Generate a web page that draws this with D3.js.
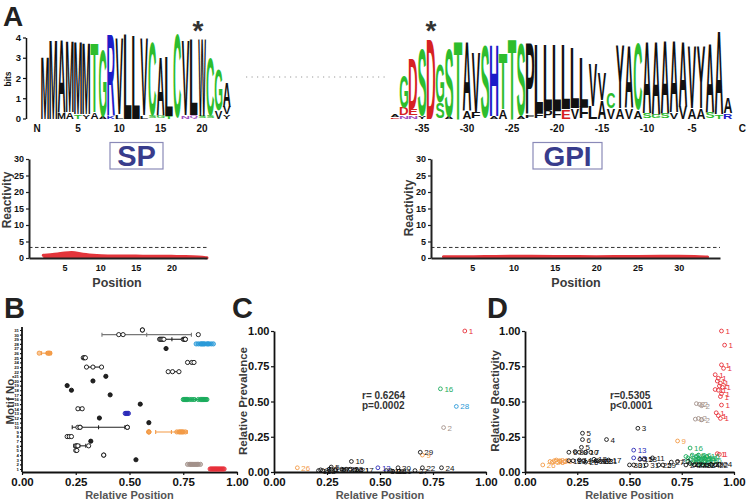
<!DOCTYPE html>
<html><head><meta charset="utf-8">
<script src="https://cdnjs.cloudflare.com/ajax/libs/d3/7.8.5/d3.min.js"></script>
<style>body{margin:0;background:#fff}svg{display:block}</style>
</head><body><script>
const FONT = '"Liberation Sans", Arial, Helvetica, sans-serif';

// ---------------- DATA ----------------
// Panel A – N-terminal (SP) sequence logo
const leftPos = d3.range(1, 24);
const leftMain = ["M","M","A","M","M","M","T","G","R","V","L","L","V","C","A","L","C","V","L","W","C","G","A"];
const leftBits = [3.1,3.9,3.6,3.55,3.6,3.55,3.4,3.3,3.95,3.7,4.15,4.1,3.8,3.65,2.9,2.9,4.15,3.65,3.75,3.8,2.85,2.0,1.2];
const leftMinorPos = [3,4,5,6,7,8,9,10,13,14,15,16,18,19,20,21,22,23,23];
const leftMinorLetters = ["M","A","T","Y","A","A","K","L","L","S","G","T","N","Q","S","S","V","V","Y"];
const leftMinorBits = [0.3,0.3,0.2,0.2,0.3,0.1,0.1,0.2,0.15,0.1,0.1,0.1,0.15,0.15,0.1,0.15,0.4,0.35,0.2];
const leftTicks = [5,10,15,20];
const leftStar = 19.5;

// Panel A – C-terminal (GPI) sequence logo
const rightPos = d3.range(-38, 0);
const rightMain = ["","G","D","S","D","G","S","T","A","V","S","H","T","T","S","P","L","L","L","L","L","L","V","V","C","Y","A","C","A","A","A","A","A","V","Y","A","A","A"];
const rightBits = [0,1.6,2.45,3.3,3.9,1.9,3.35,3.85,3.4,2.9,3.6,3.5,2.75,4.0,3.55,3.5,3.35,3.2,3.2,3.15,3.0,2.4,2.1,1.3,0.8,3.1,3.1,3.3,3.5,3.6,3.6,3.5,3.2,3.0,3.0,3.4,4.1,0.75];
const rightMinorPos = [-38,-38,-37,-37,-36,-36,-35,-33,-32,-30,-29,-27,-26,-24,-23,-22,-21,-20,-19,-18,-17,-16,-15,-14,-13,-12,-11,-10,-9,-8,-7,-6,-5,-4,-3,-2,-1];
const rightMinorLetters = ["A","E","N","D","N","E","Y","S","A","A","F","A","A","A","F","F","P","F","E","V","F","L","A","V","A","V","A","S","G","S","V","V","A","A","S","T","R"];
const rightMinorBits = [0.1,0.08,0.15,0.35,0.15,0.3,0.15,0.8,0.1,0.4,0.3,0.1,0.45,0.1,0.15,0.25,0.4,0.4,0.45,0.5,0.55,0.6,0.9,0.5,0.5,0.5,0.4,0.25,0.2,0.25,0.3,0.6,0.5,0.5,0.3,0.2,0.25];
const rightTicks = [-35,-30,-25,-20,-15,-10,-5];
const rightStar = -34;
const bitTicks = [0,1,2,3,4];

// Panel A – reactivity profiles
const spPos = [2,3,4,5,6,7,8,9,10,12,14,16,18,20,22,24,25];
const spReact = [0.8,1.0,1.2,1.5,1.8,1.4,1.0,0.8,0.7,0.6,0.6,0.55,0.55,0.5,0.45,0.3,0.05];
const gpiPos = [1.5,3,5,8,10,12,15,18,20,22,25,28,30,32,33.5];
const gpiReact = [0.35,0.4,0.4,0.45,0.55,0.5,0.45,0.45,0.4,0.45,0.45,0.5,0.55,0.5,0.3];
const reactThreshold = 3.2;
const reactTicks = [0,5,10,15,20,25,30];

// Panel B – relative positions of each motif
const bMotifs = d3.range(1, 32);
const bPositions = [
  [0.875,0.88,0.885,0.89,0.895,0.90,0.905,0.91,0.915,0.92,0.925,0.93,0.935,0.94],
  [0.77,0.78,0.785,0.79,0.795,0.80,0.805,0.81,0.815,0.82,0.83],
  [0.53],[0.38,0.38],[0.25,0.255],[0.25,0.255,0.26,0.31],[0.32],[0.21,0.22,0.23],
  [0.59,0.59,0.59,0.72,0.73,0.735,0.74,0.745,0.75,0.76],
  [0.26,0.27,0.27,0.49,0.49],[0.59],[0.36],[0.48,0.485,0.49,0.495],[0.26,0.28],[0.55],
  [0.75,0.755,0.76,0.765,0.77,0.78,0.79,0.80,0.82,0.83,0.835,0.84,0.845,0.85,0.855,0.86],
  [0.41],[0.23],[0.21],[0.33],[0.39],[0.68,0.70,0.73],[0.30,0.33,0.37],[0.77,0.79,0.80],
  [0.285,0.29,0.295],[0.08,0.12,0.125,0.13],[0.67],
  [0.81,0.82,0.83,0.835,0.84,0.845,0.85,0.86,0.865,0.87,0.88,0.89],
  [0.64,0.645,0.65,0.655,0.66,0.75,0.755,0.76,0.76],
  [0.45,0.47,0.82],[0.56,0.56]
];
const relTicks = [0,0.25,0.5,0.75,1];

// Panel C – relative prevalence
const cMotif = d3.range(1, 32);
const cPos  = [0.90,0.80,0.53,0.38,0.27,0.26,0.32,0.22,0.70,0.365,0.59,0.36,0.49,0.27,0.55,0.785,0.41,0.23,0.21,0.33,0.39,0.70,0.34,0.79,0.29,0.11,0.665,0.86,0.69,0.585,0.56];
const cPrev = [1.00,0.315,0.01,0.015,0.035,0.02,0.02,0.015,0.12,0.075,0.005,0.02,0.03,0.02,0.01,0.59,0.012,0.01,0.01,0.015,0.015,0.03,0.02,0.03,0.015,0.03,0.01,0.465,0.14,0.03,0.005];
const cStats = ["r= 0.6264","p=0.0002"];

// Panel D – relative reactivity
const dMotif = [1,1,1,1,1,1,1,1,1,1,1,1,1,1,1,1,1,1,1,1,
  2,2,2,2,2,2, 3,4,5,6,5,6,8,8,10,7, 13,13,30,31, 9,16,
  16,16,16,16,16,16,16,16,16,16,16,16,16,16,16,16,16,16,
  26,26,26,26,26,26,
  18,19,14,14,25,12,20,23,17,21,12,
  15,18,11,31,25,27,22,29,
  24,22,24,29,22,24,29,22,24];
const dPos = [0.94,0.955,0.94,0.95,0.91,0.925,0.92,0.935,0.93,0.945,0.91,0.925,0.94,0.935,0.94,0.915,0.925,0.935,0.92,0.93,
  0.82,0.835,0.845,0.815,0.83,0.845, 0.54,0.39,0.275,0.275,0.27,0.21,0.24,0.26,0.29,0.315, 0.52,0.52,0.50,0.52, 0.73,0.79,
  0.77,0.78,0.79,0.80,0.81,0.82,0.83,0.84,0.85,0.86,0.87,0.80,0.82,0.84,0.86,0.88,0.78,0.83,
  0.085,0.12,0.14,0.15,0.165,0.13,
  0.21,0.23,0.26,0.28,0.29,0.33,0.34,0.36,0.40,0.38,0.35,
  0.55,0.57,0.61,0.58,0.64,0.70,0.73,0.66,
  0.77,0.79,0.81,0.83,0.85,0.87,0.89,0.91,0.93];
const dReact = [1.0,0.90,0.76,0.735,0.69,0.665,0.645,0.63,0.61,0.60,0.585,0.58,0.555,0.535,0.475,0.42,0.40,0.38,0.13,0.125,
  0.485,0.48,0.47,0.375,0.38,0.37, 0.31,0.23,0.275,0.23,0.175,0.14,0.145,0.14,0.14,0.14, 0.155,0.10,0.05,0.05, 0.22,0.17,
  0.11,0.10,0.09,0.12,0.08,0.11,0.10,0.09,0.10,0.08,0.11,0.06,0.07,0.06,0.10,0.085,0.075,0.12,
  0.05,0.075,0.08,0.085,0.08,0.07,
  0.08,0.08,0.085,0.08,0.07,0.09,0.08,0.075,0.085,0.08,0.08,
  0.09,0.09,0.10,0.05,0.05,0.07,0.075,0.05,
  0.05,0.06,0.05,0.05,0.05,0.05,0.055,0.05,0.055];
const dStats = ["r=0.5305","p<0.0001"];

const motifColor = {1:"#e8303a",2:"#a3918a",9:"#f39a45",13:"#2a2ab8",16:"#1bab5c",26:"#f39a45",28:"#2a9ad8"};
const letterColor = {G:"#2dbd2d",S:"#2dbd2d",T:"#2dbd2d",C:"#2dbd2d",D:"#d62222",E:"#d62222",R:"#1c1cc8",H:"#1c1cc8",K:"#1c1cc8",N:"#a04fc0",Q:"#a04fc0"};

// ---------------- DRAWING ----------------
const svg = d3.select("body").append("svg").attr("width",747).attr("height",503)
  .style("font-family", FONT);
const mcol = m => motifColor[m] || "#111";

function txt(g, x, y, s, size, opts={}) {
  const t = g.append("text").attr("x",x).attr("y",y).text(s)
    .attr("font-size",size).attr("font-weight",opts.weight||"bold")
    .attr("fill",opts.fill||"#111").attr("text-anchor",opts.anchor||"start");
  if (opts.rotate) t.attr("transform",`rotate(-90,${x},${y})`);
  return t;
}

// glyph measuring for logo letters
const ctx = document.createElement("canvas").getContext("2d");
ctx.font = "bold 100px " + FONT;
const inkCache = {};
function ink(ch){
  if(!inkCache[ch]){const m=ctx.measureText(ch);
    inkCache[ch]={L:m.actualBoundingBoxLeft,R:m.actualBoundingBoxRight,A:m.actualBoundingBoxAscent,D:m.actualBoundingBoxDescent};}
  return inkCache[ch];
}
function glyph(g, ch, x0, yTop, w, h){
  if(h<=0.2) return;
  const b = ink(ch);
  g.append("text").text(ch).attr("font-size",100).attr("font-weight","bold")
    .attr("fill", letterColor[ch]||"#111")
    .attr("transform",`translate(${x0},${yTop}) scale(${w/(b.L+b.R)},${h/(b.A+b.D)}) translate(${b.L},${b.A})`);
}
function drawLogo(x, y, pos, mains, bits, mPos, mLet, mBits){
  const g = svg.append("g");
  const slot = Math.abs(x(pos[1]) - x(pos[0]));
  pos.forEach((p,i)=>{
    const stack=[];
    mPos.forEach((mp,j)=>{ if(mp===p) stack.push({ch:mLet[j],b:mBits[j]}); });
    stack.sort((a,b)=>a.b-b.b);
    if(mains[i]) stack.push({ch:mains[i],b:bits[i]});
    let cum=0;
    stack.forEach(s=>{
      const yb=y(cum), yt=y(cum+s.b);
      glyph(g, s.ch, x(p)-slot/2+0.3, yt, slot-0.6, yb-yt);
      cum+=s.b;
    });
  });
  return g;
}

// ---- Panel A logos
const yLogo = d3.scaleLinear().domain([0,4]).range([118.5,37.5]);
const xLeft = d3.scaleLinear().domain([5,20]).range([78,202]);
const xRight = d3.scaleLinear().domain([-35,-5]).range([422,692]);
drawLogo(xLeft, yLogo, leftPos, leftMain, leftBits, leftMinorPos, leftMinorLetters, leftMinorBits);
drawLogo(xRight, yLogo, rightPos, rightMain, rightBits, rightMinorPos, rightMinorLetters, rightMinorBits);

const gA = svg.append("g");
const yAx = gA.append("g").attr("transform","translate(26,0)")
  .call(d3.axisLeft(yLogo).tickValues(bitTicks).tickFormat(d3.format("d")).tickSize(3).tickPadding(2).tickSizeOuter(0));
yAx.select(".domain").attr("stroke","#111").attr("stroke-width",1.5);
yAx.selectAll("line").attr("stroke","#111").attr("stroke-width",1.2);
yAx.selectAll("text").attr("font-size",9.5).attr("font-weight","bold").attr("font-family",FONT).attr("fill","#111");
txt(gA, 11, 79, "bits", 8.5, {anchor:"middle", rotate:true});
leftTicks.forEach(t=>txt(gA, xLeft(t), 132, String(t), 10, {anchor:"middle"}));
txt(gA, 37, 132, "N", 10, {anchor:"middle"});
rightTicks.forEach(t=>txt(gA, xRight(t), 132, String(t), 10, {anchor:"middle"}));
txt(gA, xRight(0.6), 132, "C", 10, {anchor:"middle"});
txt(gA, xLeft(leftStar), 40, "*", 28, {anchor:"middle", fill:"#333"});
txt(gA, xRight(rightStar), 40, "*", 28, {anchor:"middle", fill:"#333"});
gA.append("line").attr("x1",246).attr("x2",386).attr("y1",77).attr("y2",77)
  .attr("stroke","#999").attr("stroke-width",1.2).attr("stroke-dasharray","1.2,4.3");
txt(svg, 3, 26, "A", 28, {fill:"#222"});

// SP / GPI boxes
function boxLabel(x0,x1,s,fs){
  svg.append("rect").attr("x",x0).attr("y",142.5).attr("width",x1-x0).attr("height",26.5)
    .attr("fill","none").attr("stroke","#8a8ab8").attr("stroke-width",1.2);
  txt(svg,(x0+x1)/2,166,s,fs,{anchor:"middle",fill:"#383c8c"});
}
boxLabel(110,163,"SP",29);
boxLabel(533,602,"GPI",28);

// reactivity panels
function reactPanel(xr, xmax, xticks, pos, vals, ylabX, ylabY, posX){
  const x=d3.scaleLinear().domain([0,xmax]).range(xr);
  const y=d3.scaleLinear().domain([0,30]).range([258,159]);
  const g=svg.append("g");
  g.append("line").attr("x1",x(0)).attr("x2",xr[1]).attr("y1",y(reactThreshold)).attr("y2",y(reactThreshold))
    .attr("stroke","#333").attr("stroke-width",1).attr("stroke-dasharray","3.5,2.5");
  const area=d3.area().x((d,i)=>x(pos[i])).y0(y(0)).y1(d=>y(d)).curve(d3.curveBasis);
  g.append("path").datum(vals).attr("d",area).attr("fill","#e3353b");
  const line=d3.line().x((d,i)=>x(pos[i])).y(d=>y(d)).curve(d3.curveBasis);
  g.append("path").datum(vals).attr("d",line).attr("fill","none").attr("stroke","#e3353b").attr("stroke-width",3).attr("stroke-linecap","round");
  const ax=g.append("g").attr("transform",`translate(0,${y(0)})`)
    .call(d3.axisBottom(x).tickValues(xticks).tickSize(0).tickPadding(7).tickSizeOuter(0));
  const ay=g.append("g").attr("transform",`translate(${x(0)},0)`)
    .call(d3.axisLeft(y).tickValues(reactTicks).tickSize(3).tickPadding(2).tickSizeOuter(0));
  [ax,ay].forEach(a=>{
    a.select(".domain").attr("stroke","#222").attr("stroke-width",2);
    a.selectAll("line").attr("stroke","#222").attr("stroke-width",1.2);
    a.selectAll("text").attr("font-size",9).attr("font-weight","bold").attr("font-family",FONT).attr("fill","#111");
  });
  txt(g, ylabX, ylabY, "Reactivity", 12, {anchor:"middle", rotate:true, fill:"#3a3a3a"});
  txt(g, posX, 287, "Position", 12.5, {anchor:"middle", fill:"#3a3a3a"});
}
reactPanel([29,207], 25, [5,10,15,20], spPos, spReact, 11, 200, 117);
reactPanel([431,720], 35, [5,10,15,20,25,30], gpiPos, gpiReact, 413, 208, 576);

// ---- common axis styling for B, C, D
function styleAx(a, fs){
  a.select(".domain").attr("stroke","#111").attr("stroke-width",1.8);
  a.selectAll(".tick line").attr("stroke","#111").attr("stroke-width",1.2);
  a.selectAll("text").attr("font-size",fs).attr("font-weight","bold").attr("font-family",FONT).attr("fill","#111");
}
const fmt = d3.format(".2f");

// ---- Panel B
txt(svg, 4, 318, "B", 29, {fill:"#222"});
const xB = d3.scaleLinear().domain([0,1]).range([22,237]);
const yB = d3.scaleLinear().domain([1,31]).range([469,330]);
const gB = svg.append("g");
styleAx(gB.append("g").attr("transform","translate(0,472)")
  .call(d3.axisBottom(xB).tickValues(relTicks).tickFormat(fmt).tickSize(3).tickPadding(3).tickSizeOuter(0)), 11.5);
const ayB = gB.append("g").attr("transform","translate(22,0)")
  .call(d3.axisLeft(yB).tickValues(bMotifs).tickSize(2).tickPadding(1).tickSizeOuter(0));
styleAx(ayB, 4.3);
ayB.select(".domain").attr("d","M0,327V472");
bMotifs.forEach((m,i)=>{
  const v=bPositions[i], c=mcol(m), yy=yB(m);
  if(v.length>1){
    const mu=d3.mean(v), sd=d3.deviation(v);
    const lc = motifColor[m] ? c : (m===30 ? "#777" : "#222");
    gB.append("line").attr("x1",xB(mu-sd)).attr("x2",xB(mu+sd)).attr("y1",yy).attr("y2",yy).attr("stroke",lc).attr("stroke-width",1.1);
    [mu-sd,mu,mu+sd].forEach(t=>gB.append("line").attr("x1",xB(t)).attr("x2",xB(t)).attr("y1",yy-2).attr("y2",yy+2).attr("stroke",lc).attr("stroke-width",1.1));
  }
  v.forEach(p=>{
    gB.append("circle").attr("cx",xB(p)).attr("cy",yy).attr("r",2.1)
      .attr("fill", v.length===1 ? "#222" : (motifColor[m] ? c : "#fff"))
      .attr("fill-opacity", motifColor[m] ? 0.55 : 1)
      .attr("stroke",c).attr("stroke-width",0.9);
  });
});
txt(gB, 14, 400, "Motif No.", 11.5, {anchor:"middle", rotate:true, fill:"#3a3a3a"});
txt(gB, 129.5, 499, "Relative Position", 11, {anchor:"middle", fill:"#555"});

// ---- Scatter panels C & D
function scatter(x0, x1, ylab, ylabX, mot, px, py, stats, statX){
  const x=d3.scaleLinear().domain([0,1]).range([x0,x1]);
  const y=d3.scaleLinear().domain([0,1]).range([472,331]);
  const g=svg.append("g");
  styleAx(g.append("g").attr("transform","translate(0,472)")
    .call(d3.axisBottom(x).tickValues(relTicks).tickFormat(fmt).tickSize(3).tickPadding(3).tickSizeOuter(0)), 11.5);
  styleAx(g.append("g").attr("transform",`translate(${x0},0)`)
    .call(d3.axisLeft(y).tickValues(relTicks).tickFormat(fmt).tickSize(3).tickPadding(1.5).tickSizeOuter(0)), 11);
  mot.forEach((m,i)=>{
    const c=mcol(m);
    g.append("circle").attr("cx",x(px[i])).attr("cy",y(py[i])).attr("r",1.9)
      .attr("fill","none").attr("stroke",c).attr("stroke-width",0.9);
    txt(g, x(px[i])+4, y(py[i])+3, String(m), 8, {weight:"normal", fill:c});
  });
  txt(g, statX, 399, stats[0], 10, {fill:"#333"});
  txt(g, statX, 409, stats[1], 10, {fill:"#333"});
  txt(g, ylabX, 401, ylab, 11.5, {anchor:"middle", rotate:true, fill:"#3a3a3a"});
  txt(g, (x0+x1)/2, 499, "Relative Position", 11, {anchor:"middle", fill:"#555"});
}
txt(svg, 232, 318, "C", 29, {fill:"#222"});
scatter(274, 486, "Relative Prevalence", 246.5, cMotif, cPos, cPrev, cStats, 362);
txt(svg, 487, 318, "D", 29, {fill:"#222"});
scatter(525, 734, "Relative Reactivity", 498.5, dMotif, dPos, dReact, dStats, 610);
</script></body></html>
